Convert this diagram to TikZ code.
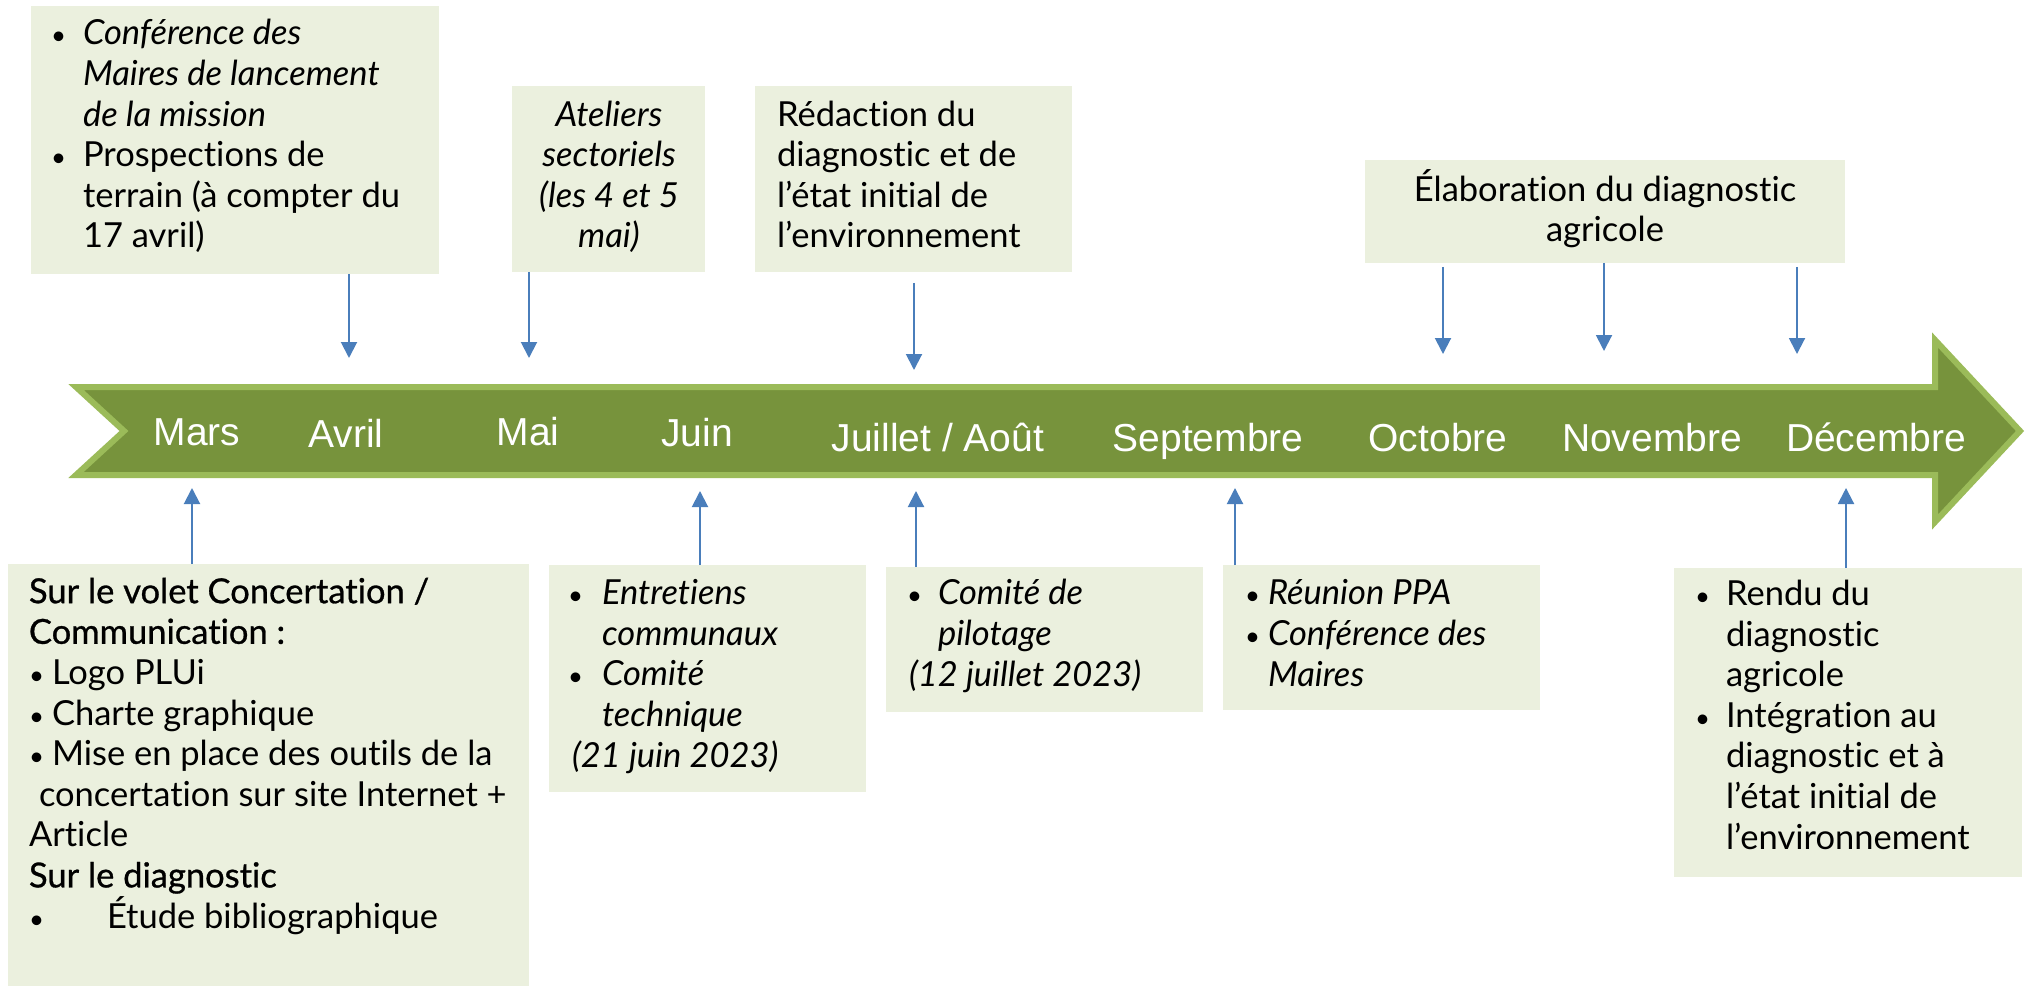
\documentclass[tikz,border=0pt]{standalone}
\usepackage{fontspec}
\setmainfont{Lato}[Ligatures=NoCommon]
\newfontfamily\monthfont{Liberation Sans}
\newfontfamily\medfont[FakeBold=0.8,Ligatures=NoCommon]{Lato}
\definecolor{pale}{RGB}{235,240,222}
\definecolor{olive}{RGB}{119,147,60}
\definecolor{leaf}{RGB}{155,187,89}
\definecolor{steel}{RGB}{74,126,187}
\usepackage{tikz}
\usetikzlibrary{arrows.meta}
\usetikzlibrary{positioning}
\tikzstyle{base}=[inner sep=0pt, outer sep=0pt]
\tikzstyle{box}=[base, fill=pale, anchor=north west]
\tikzstyle{txt}=[base, anchor=base west, align=left, font={\fontsize{34.5}{40.6}\selectfont}]
\tikzstyle{itxt}=[txt, font={\fontsize{34.5}{40.6}\selectfont\itshape}]
\tikzstyle{month}=[base, anchor=base, text=white, font={\monthfont\fontsize{39}{47}\selectfont}]
\tikzstyle{tickarrow}=[steel, line width=2pt, -{Triangle[width=16pt,length=16pt]}]
\newcommand*{\bul}[1][30pt]{\makebox[#1][l]{\scalebox{0.75}{\textbullet}}}
\newcommand*{\ind}[1][30pt]{\hspace*{#1}}

\begin{document}
\begin{tikzpicture}[x=1pt, y=-1pt]
    \useasboundingbox (0,0) rectangle (2037,992);
        \draw [leaf, fill=olive, line width=6pt, line join=miter] (76,387) -- (1935,387) -- (1935,340) -- (2020,431) -- (1935,522) -- (1935,475) -- (76,475) -- (124,431) -- cycle;
        \node [month] (mars) at (197,445) {Mars};
        \node [month] (avril) at (346,447) {Avril};
        \node [month] (mai) at (528,445) {Mai};
        \node [month] (juin) at (697,446) {Juin};
        \node [month] (juillet) at (938,451) {Juillet / Août};
        \node [month] (sept) at (1208,451) {Septembre};
        \node [month] (oct) at (1438,451) {Octobre};
        \node [month] (nov) at (1652,451) {Novembre};
        \node [month] (dec) at (1876,451) {Décembre};

        \node [box, minimum width=408pt, minimum height=268pt] (boxA) at (31,6) {};
        \node [box, minimum width=193pt, minimum height=186pt] (boxB) at (512,86) {};
        \node [box, minimum width=317pt, minimum height=186pt] (boxC) at (755,86) {};
        \node [box, minimum width=480pt, minimum height=103pt] (boxD) at (1365,160) {};
        \node [box, minimum width=521pt, minimum height=422pt] (boxE) at (8,564) {};
        \node [box, minimum width=317pt, minimum height=227pt] (boxF) at (549,565) {};
        \node [box, minimum width=317pt, minimum height=145pt] (boxG) at (886,567) {};
        \node [box, minimum width=317pt, minimum height=145pt] (boxH) at (1223,565) {};
        \node [box, minimum width=348pt, minimum height=309pt] (boxI) at (1674,568) {};

        \node [txt] (txtA) at (51,248) {\bul[32pt]\textit{Conférence des}\\ \ind[32pt]\textit{Maires de lancement}\\ \ind[32pt]\textit{de la mission}\\ \bul[32pt]Prospections de\\ \ind[32pt]terrain (à compter du\\ \ind[32pt]17 avril)};
        \node [itxt, anchor=base, align=center] (txtB) at (609,248) {Ateliers\\ sectoriels\\ (les 4 et 5\\ mai)};
        \node [txt] (txtC) at (777,248) {Rédaction du\\ diagnostic et de\\ l’état initial de\\ l’environnement};
        \node [txt, anchor=base, align=center] (txtD) at (1605,242) {Élaboration du diagnostic\\ agricole};
        \node [txt] (txtE) at (29,928) {{\medfont Sur le volet Concertation /}\\ {\medfont Communication :}\\ \bul[23pt]Logo PLUi\\ \bul[23pt]Charte graphique\\ \bul[23pt]Mise en place des outils de la\\ \ind[10pt]concertation sur site Internet +\\ Article\\ {\medfont Sur le diagnostic}\\ \bul[78pt]Étude bibliographique};
        \node [itxt] (txtF) at (568,767) {\bul[34pt]Entretiens\\ \ind[34pt]communaux\\ \bul[34pt]Comité\\ \ind[34pt]technique\\ \ind[4pt](21 juin 2023)};
        \node [itxt] (txtG) at (907,686) {\bul[31pt]Comité de\\ \ind[31pt]pilotage\\ \ind[2pt](12 juillet 2023)};
        \node [itxt] (txtH) at (1245,686) {\bul[23pt]Réunion PPA\\ \bul[23pt]Conférence des\\ \ind[23pt]Maires};
        \node [txt] (txtI) at (1695,849) {\bul[31pt]Rendu du\\ \ind[31pt]diagnostic\\ \ind[31pt]agricole\\ \bul[31pt]Intégration au\\ \ind[31pt]diagnostic et à\\ \ind[31pt]l’état initial de\\ \ind[31pt]l’environnement};

        \coordinate (tAvril) at (349,358);
        \coordinate (tMai) at (529,358);
        \coordinate (tRedac) at (914,370);
        \coordinate (tOct) at (1443,354);
        \coordinate (tNov) at (1604,351);
        \coordinate (tDec) at (1797,354);
        \draw [tickarrow] (boxA.south -| tAvril) -- (tAvril);
        \draw [tickarrow] (boxB.south -| tMai) -- (tMai);
        \draw [tickarrow, shorten <=11pt] (boxC.south -| tRedac) -- (tRedac);
        \draw [tickarrow, shorten <=4pt] (boxD.south -| tOct) -- (tOct);
        \draw [tickarrow] (boxD.south -| tNov) -- (tNov);
        \draw [tickarrow, shorten <=4pt] (boxD.south -| tDec) -- (tDec);

        \coordinate (bMars) at (192,488);
        \coordinate (bJuin) at (700,491);
        \coordinate (bJuil) at (916,491);
        \coordinate (bSept) at (1235,488);
        \coordinate (bDec) at (1846,488);
        \draw [tickarrow] (boxE.north -| bMars) -- (bMars);
        \draw [tickarrow] (boxF.north -| bJuin) -- (bJuin);
        \draw [tickarrow] (boxG.north -| bJuil) -- (bJuil);
        \draw [tickarrow] (boxH.north -| bSept) -- (bSept);
        \draw [tickarrow] (boxI.north -| bDec) -- (bDec);
\end{tikzpicture}
\end{document}
